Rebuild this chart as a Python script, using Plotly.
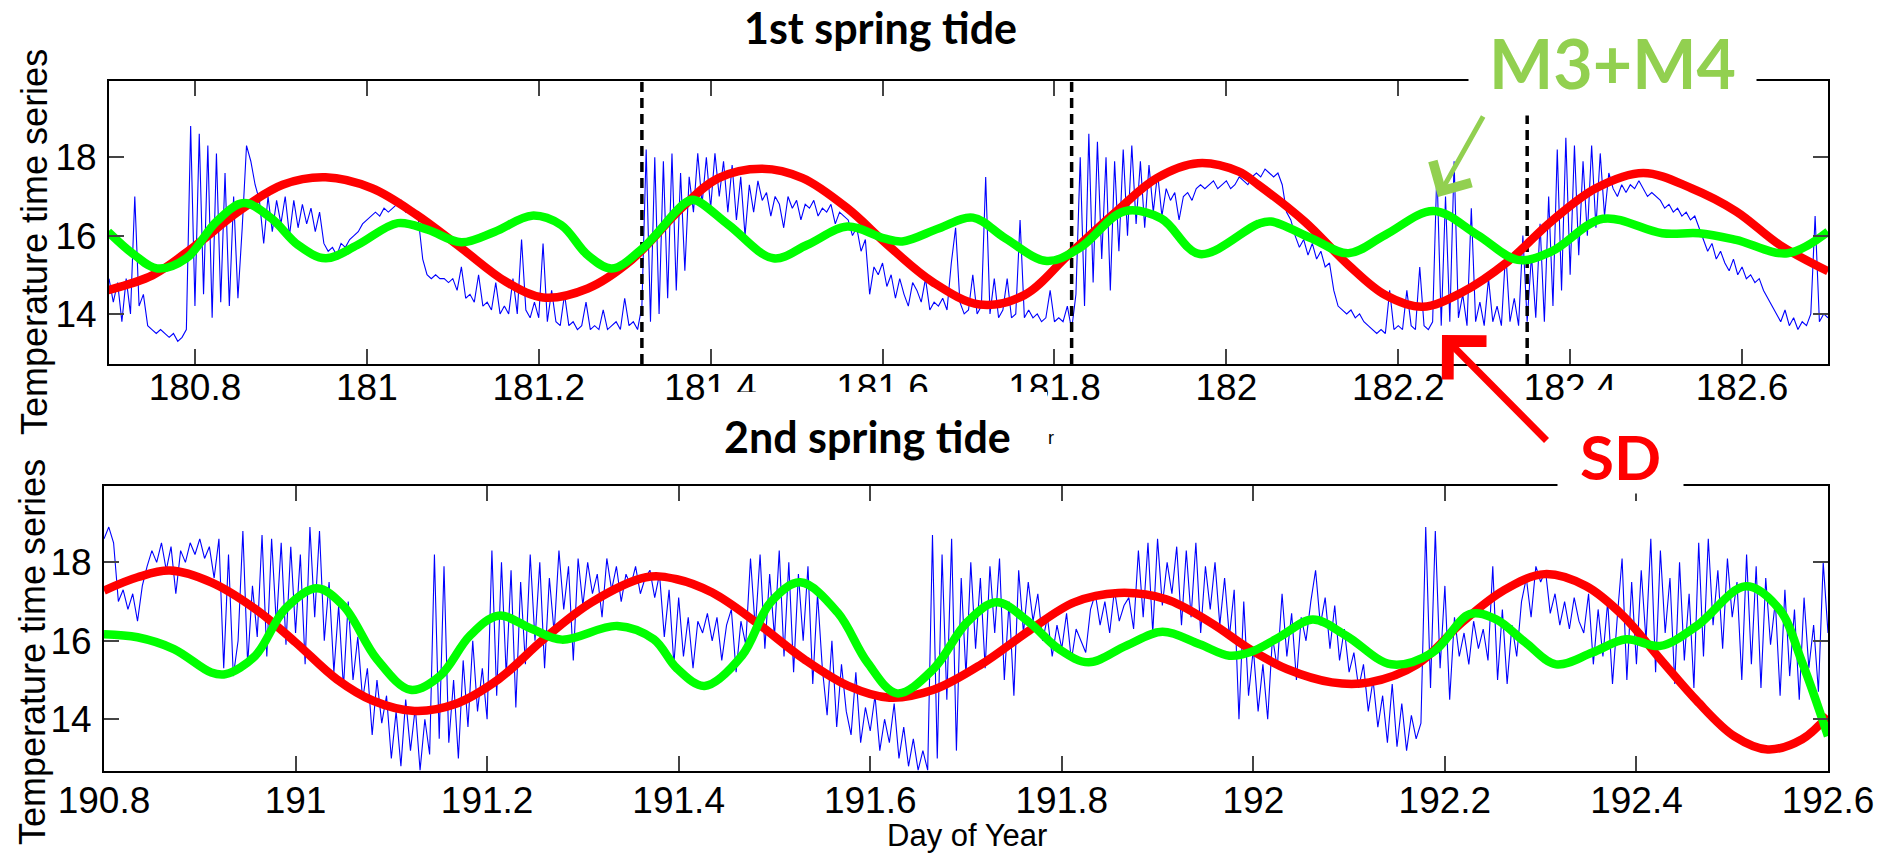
import numpy as np
import plotly.graph_objects as go

# ---------------- data ----------------
# observed temperature, uniform sampling every 0.005 day
top_start = 180.70
bottom_start = 190.80
sample_step = 0.005

top_temp = [
    14.9, 14.3, 14.8, 13.8, 14.9, 14.0, 17.0, 14.2, 14.5, 13.7, 13.6, 13.5, 13.6, 13.5, 13.4, 13.5, 13.3, 13.4, 13.6, 18.8,
    14.2, 18.6, 14.5, 18.3, 13.9, 18.1, 14.3, 17.6, 14.2, 17.0, 14.4, 16.2, 18.3, 17.9, 17.3, 16.9, 15.8, 17.0, 16.1, 16.9,
    16.3, 17.0, 16.0, 16.9, 16.2, 16.8, 16.3, 16.7, 16.1, 16.6, 15.8, 15.6, 15.7, 15.5, 15.8, 15.7, 15.9, 16.0, 16.1, 16.3,
    16.4, 16.5, 16.6, 16.5, 16.7, 16.6, 16.7, 16.8, 16.9, 16.6, 16.7, 16.5, 16.4, 15.4, 15.0, 14.9, 15.0, 14.9, 14.9, 14.8,
    14.9, 14.6, 15.2, 14.4, 14.5, 14.3, 15.0, 14.2, 14.3, 14.1, 14.8, 14.0, 14.2, 14.0, 14.9, 14.0, 15.9, 14.1, 13.9, 14.3,
    13.9, 15.8, 13.8, 14.6, 13.8, 13.7, 14.5, 13.7, 13.8, 13.6, 13.7, 14.3, 13.6, 13.7, 13.6, 14.1, 13.6, 13.7, 13.8, 13.6,
    14.4, 13.7, 13.8, 13.6, 14.2, 18.2, 13.8, 18.0, 14.0, 17.9, 14.4, 18.1, 14.6, 17.6, 15.1, 17.5, 16.6, 18.1, 16.8, 18.0,
    16.7, 18.1, 17.0, 17.9, 16.6, 17.8, 16.4, 17.5, 16.0, 17.3, 16.6, 17.4, 16.9, 17.1, 16.5, 17.0, 16.8, 16.2, 17.0, 16.7,
    16.9, 16.4, 16.8, 16.7, 16.9, 16.5, 16.7, 16.6, 16.8, 16.3, 16.6, 16.5, 16.4, 16.0, 16.2, 15.6, 15.9, 14.5, 15.2, 15.0,
    15.3, 14.7, 15.0, 14.4, 14.9, 14.5, 14.2, 14.8, 14.6, 14.3, 14.9, 14.1, 14.3, 14.2, 14.4, 14.1, 15.3, 16.2, 14.3, 14.0,
    14.1, 15.0, 14.0, 14.2, 17.5, 14.0, 14.9, 13.9, 14.1, 14.9, 13.9, 14.0, 16.4, 13.9, 14.1, 13.9, 14.0, 13.8, 13.9, 14.6,
    13.8, 13.9, 13.8, 14.2, 13.6, 14.5, 18.0, 14.2, 18.6, 14.8, 18.4, 15.4, 18.0, 14.6, 17.9, 15.6, 18.2, 16.0, 18.3, 16.3,
    17.9, 16.2, 17.8, 16.6, 17.6, 16.5, 17.2, 16.9, 17.1, 16.4, 17.0, 17.1, 16.9, 17.2, 17.3, 17.2, 17.3, 17.4, 17.2, 17.3,
    17.4, 17.2, 17.3, 17.5, 17.4, 17.3, 17.5, 17.6, 17.5, 17.7, 17.6, 17.5, 17.6, 17.3, 16.6, 16.4, 16.0, 15.7, 15.9, 15.5,
    15.8, 15.4, 15.6, 15.2, 15.3, 14.6, 14.2, 14.1, 14.0, 14.1, 13.9, 14.0, 13.8, 13.7, 13.6, 13.5, 13.6, 13.5, 14.6, 13.6,
    13.7, 13.6, 14.6, 13.7, 13.6, 15.2, 13.7, 13.6, 13.8, 17.7, 13.7, 17.0, 13.8, 17.9, 13.9, 14.5, 13.7, 16.7, 13.8, 14.3,
    13.7, 14.9, 13.8, 14.2, 13.7, 15.6, 13.8, 14.4, 13.7, 16.0, 13.8, 15.5, 13.9, 16.3, 13.8, 17.0, 14.2, 18.2, 14.6, 18.5,
    15.0, 18.3, 15.5, 17.9, 16.0, 18.3, 16.2, 18.1, 16.5, 17.6, 17.2, 17.0, 17.3, 17.1, 17.3, 17.2, 17.4, 17.2, 17.0, 17.1,
    17.0, 16.9, 16.7, 16.8, 16.6, 16.7, 16.5, 16.6, 16.4, 16.5, 16.2, 15.9, 15.6, 15.8, 15.4, 15.6, 15.3, 15.1, 15.4, 15.0,
    15.2, 14.9, 15.0, 14.8, 14.9, 14.6, 14.4, 14.2, 14.0, 13.8, 14.1, 13.7, 13.9, 13.6, 13.8, 13.7, 14.0, 16.5, 13.8, 14.0,
    13.9,
]

bottom_temp = [
    18.6, 18.9, 18.5, 17.0, 17.3, 16.8, 17.2, 16.5, 17.4, 17.9, 18.3, 18.0, 18.5, 17.8, 18.4, 17.2, 18.3, 18.0, 18.5, 18.2,
    18.6, 18.1, 18.4, 17.6, 18.6, 15.3, 18.2, 15.1, 16.0, 18.8, 15.4, 17.4, 16.1, 18.7, 15.6, 18.6, 16.4, 18.5, 15.9, 18.4,
    16.2, 18.2, 15.4, 18.9, 16.6, 18.8, 16.0, 17.5, 15.2, 16.9, 14.8, 17.0, 15.0, 16.1, 14.5, 15.3, 13.6, 15.0, 13.9, 14.6,
    13.0, 14.2, 12.8, 14.5, 13.2, 14.3, 12.7, 14.0, 13.1, 18.2, 13.5, 17.9, 13.4, 15.0, 13.0, 15.5, 13.8, 16.0, 14.2, 15.3,
    14.0, 18.3, 14.6, 18.0, 15.1, 17.8, 14.3, 17.5, 15.4, 18.2, 16.0, 18.0, 15.3, 17.6, 16.2, 18.3, 16.8, 17.9, 15.5, 18.1,
    16.9, 18.0, 17.2, 17.7, 16.6, 18.1, 17.3, 17.9, 17.0, 17.7, 17.4, 17.9, 17.2, 17.6, 17.8, 17.1, 17.7, 16.1, 17.3, 15.4,
    17.1, 15.6, 16.6, 15.3, 16.5, 16.2, 16.7, 16.0, 16.6, 15.5, 16.4, 16.8, 15.2, 16.5, 15.9, 18.1, 16.3, 18.2, 15.8, 17.7,
    16.1, 18.3, 15.6, 18.0, 15.2, 17.7, 16.0, 17.9, 14.9, 17.2, 15.3, 14.1, 16.0, 13.8, 15.4, 14.2, 13.6, 15.2, 13.4, 14.3,
    13.7, 14.6, 13.2, 14.0, 13.4, 14.4, 13.0, 13.8, 12.8, 13.5, 12.7, 13.2, 12.7, 18.7, 13.0, 18.2, 14.5, 18.6, 13.2, 17.6,
    15.1, 18.0, 15.8, 17.6, 15.3, 17.9, 16.2, 18.1, 15.0, 17.0, 14.6, 17.8, 16.2, 17.5, 16.5, 17.2, 16.0, 16.6, 15.6, 16.4,
    15.8, 16.7, 15.5, 16.3, 16.0, 15.7, 16.8, 17.2, 16.4, 17.0, 16.2, 17.3, 16.5, 16.9, 17.1, 16.3, 18.3, 16.6, 18.5, 16.2,
    18.6, 16.9, 18.0, 17.2, 18.4, 16.4, 18.3, 16.6, 18.5, 16.2, 17.9, 16.8, 18.0, 16.4, 17.6, 16.1, 17.3, 14.0, 17.0, 14.6,
    15.8, 14.2, 15.4, 14.0, 16.1, 15.3, 17.2, 15.6, 16.7, 15.0, 16.6, 16.0, 17.0, 17.8, 16.4, 17.1, 15.8, 16.9, 15.5, 16.3,
    15.2, 15.7, 14.8, 15.4, 14.2, 15.0, 13.8, 14.6, 13.4, 14.9, 13.3, 14.4, 13.2, 14.1, 13.5, 13.9, 18.9, 14.8, 18.8, 15.3,
    17.4, 14.5, 16.6, 15.6, 16.2, 15.4, 16.5, 15.8, 16.3, 15.5, 17.9, 15.0, 16.8, 14.9, 16.4, 15.6, 17.0, 17.6, 16.6, 17.9,
    17.5, 17.8, 16.7, 17.2, 16.4, 17.0, 16.3, 17.1, 16.5, 16.2, 17.2, 15.4, 16.8, 15.6, 17.0, 14.9, 16.6, 18.1, 15.0, 17.5,
    15.4, 17.8, 16.0, 18.6, 15.2, 18.3, 16.2, 17.6, 14.9, 18.0, 15.5, 17.2, 14.8, 18.5, 15.6, 18.6, 16.4, 17.8, 15.8, 18.1,
    16.6, 17.5, 15.0, 18.2, 15.4, 17.9, 14.8, 17.6, 15.9, 17.0, 14.6, 17.3, 15.1, 16.8, 14.5, 17.1, 15.3, 16.4, 14.7, 18.0,
    16.2,
]

# semidiurnal (SD) reconstruction
sd_top_days = [180.699, 180.751, 180.799, 180.851, 180.902, 180.952, 181.006, 181.058, 181.110, 181.162,
               181.205, 181.257, 181.308, 181.366, 181.409, 181.460, 181.507, 181.559, 181.606, 181.658,
               181.713, 181.765, 181.816, 181.872, 181.919, 181.967, 182.014, 182.037, 182.091, 182.142,
               182.185, 182.228, 182.275, 182.327, 182.378, 182.430, 182.485, 182.541, 182.593, 182.644, 182.700]
sd_top_vals = [14.61, 14.99, 15.72, 16.62, 17.30, 17.49, 17.21, 16.53, 15.68, 14.82,
               14.42, 14.65, 15.38, 16.70, 17.47, 17.71, 17.47, 16.70, 15.76, 14.82,
               14.24, 14.48, 15.50, 16.62, 17.47, 17.85, 17.64, 17.30, 16.36, 15.25,
               14.48, 14.18, 14.56, 15.33, 16.36, 17.21, 17.60, 17.21, 16.62, 15.76, 15.09]

# M3 + M4 reconstruction
m34_top_days = [180.699, 180.730, 180.756, 180.790, 180.825, 180.857, 180.889, 180.920, 180.952, 180.989,
                181.036, 181.071, 181.110, 181.149, 181.192, 181.226, 181.257, 181.285, 181.321, 181.370,
                181.381, 181.421, 181.473, 181.512, 181.559, 181.602, 181.623, 181.666, 181.705, 181.743,
                181.791, 181.829, 181.881, 181.924, 181.969, 182.037, 182.052, 182.099, 182.142, 182.185,
                182.241, 182.292, 182.339, 182.378, 182.438, 182.507, 182.550, 182.593, 182.653, 182.700]
m34_top_vals = [16.10, 15.50, 15.16, 15.42, 16.36, 16.83, 16.44, 15.76, 15.42, 15.76,
                16.32, 16.15, 15.83, 16.10, 16.51, 16.27, 15.50, 15.16, 15.68, 16.83,
                16.91, 16.27, 15.42, 15.76, 16.23, 15.93, 15.85, 16.19, 16.46, 15.93,
                15.35, 15.68, 16.62, 16.44, 15.53, 16.30, 16.36, 15.93, 15.55, 16.02,
                16.63, 16.02, 15.38, 15.59, 16.43, 16.06, 16.06, 15.89, 15.55, 16.10]

sd_bottom_days = [190.800, 190.835, 190.869, 190.912, 190.958, 191.000, 191.043, 191.081, 191.124, 191.166,
                  191.212, 191.259, 191.309, 191.366, 191.398, 191.435, 191.481, 191.531, 191.577, 191.620,
                  191.666, 191.716, 191.766, 191.813, 191.859, 191.909, 191.955, 191.998, 192.035, 192.082,
                  192.121, 192.171, 192.218, 192.261, 192.304, 192.347, 192.386, 192.425, 192.463, 192.502,
                  192.537, 192.573, 192.600]
sd_bottom_vals = [17.28, 17.62, 17.79, 17.49, 16.81, 15.96, 15.02, 14.47, 14.21, 14.38,
                  15.02, 16.04, 16.98, 17.62, 17.57, 17.23, 16.47, 15.53, 14.85, 14.55,
                  14.75, 15.40, 16.26, 16.98, 17.22, 17.06, 16.47, 15.76, 15.28, 14.94,
                  14.94, 15.40, 16.47, 17.28, 17.70, 17.40, 16.64, 15.53, 14.47, 13.57,
                  13.23, 13.49, 14.09]

m34_bottom_days = [190.800, 190.835, 190.873, 190.912, 190.927, 190.958, 190.989, 191.022, 191.050, 191.085,
                   191.120, 191.151, 191.182, 191.212, 191.247, 191.278, 191.336, 191.374, 191.398, 191.427,
                   191.466, 191.496, 191.527, 191.566, 191.597, 191.628, 191.666, 191.701, 191.732, 191.766,
                   191.797, 191.828, 191.867, 191.905, 191.944, 191.975, 191.998, 192.027, 192.062, 192.097,
                   192.144, 192.187, 192.226, 192.253, 192.284, 192.316, 192.354, 192.389, 192.425, 192.463,
                   192.514, 192.549, 192.573, 192.600]
m34_bottom_vals = [16.17, 16.09, 15.79, 15.19, 15.15, 15.62, 16.81, 17.34, 16.89, 15.53,
                   14.75, 15.11, 16.13, 16.64, 16.30, 16.03, 16.38, 16.04, 15.30, 14.85,
                   15.62, 16.98, 17.49, 16.72, 15.45, 14.66, 15.28, 16.47, 16.98, 16.47,
                   15.79, 15.45, 15.87, 16.23, 15.91, 15.62, 15.72, 16.09, 16.54, 16.13,
                   15.40, 15.70, 16.68, 16.55, 15.96, 15.40, 15.70, 16.04, 15.87, 16.38,
                   17.39, 16.81, 15.45, 13.57]

divider_days = [181.32, 181.82, 182.35]
divider_tops = [19.95, 19.95, 19.07]

top_tick_vals = [180.8, 181.0, 181.2, 181.4, 181.6, 181.8, 182.0, 182.2, 182.4, 182.6]
top_tick_text = ["180.8", "181", "181.2", "181.4", "181.6", "181.8", "182", "182.2", "182.4", "182.6"]
bottom_tick_vals = [190.8, 191.0, 191.2, 191.4, 191.6, 191.8, 192.0, 192.2, 192.4, 192.6]
bottom_tick_text = ["190.8", "191", "191.2", "191.4", "191.6", "191.8", "192", "192.2", "192.4", "192.6"]
y_tick_vals = [14, 16, 18]
y_tick_text = ["14", "16", "18"]

top_range = [180.7, 182.7]
bottom_range = [190.8, 192.6]
top_yrange = [12.72, 19.95]
bottom_yrange = [12.68, 19.96]

# ---------------- figure ----------------
W, H = 1888, 853
def px(x):
    return x / W
def py(y):
    return 1 - y / H

top_days = top_start + sample_step * np.arange(len(top_temp))
bottom_days = bottom_start + sample_step * np.arange(len(bottom_temp))

BLUE = "#0000FF"
RED = "#FF0000"
GREEN = "#00FF00"
LIGHTGREEN = "#92D050"

fig = go.Figure()

# top panel
fig.add_trace(go.Scatter(x=top_days, y=top_temp, mode="lines",
                         line=dict(color=BLUE, width=1.1), xaxis="x", yaxis="y"))
for d, t in zip(divider_days, divider_tops):
    fig.add_trace(go.Scatter(x=[d, d], y=[top_yrange[0], t], mode="lines",
                             line=dict(color="black", width=3.5, dash="10px,6px"),
                             xaxis="x", yaxis="y"))
fig.add_trace(go.Scatter(x=sd_top_days, y=sd_top_vals, mode="lines",
                         line=dict(color=RED, width=8.5, shape="spline", smoothing=1.0),
                         xaxis="x", yaxis="y"))
fig.add_trace(go.Scatter(x=m34_top_days, y=m34_top_vals, mode="lines",
                         line=dict(color=GREEN, width=8.5, shape="spline", smoothing=1.0),
                         xaxis="x", yaxis="y"))

# bottom panel
fig.add_trace(go.Scatter(x=bottom_days, y=bottom_temp, mode="lines",
                         line=dict(color=BLUE, width=1.1), xaxis="x2", yaxis="y2"))
fig.add_trace(go.Scatter(x=sd_bottom_days, y=sd_bottom_vals, mode="lines",
                         line=dict(color=RED, width=8.5, shape="spline", smoothing=1.0),
                         xaxis="x2", yaxis="y2"))
fig.add_trace(go.Scatter(x=m34_bottom_days, y=m34_bottom_vals, mode="lines",
                         line=dict(color=GREEN, width=8.5, shape="spline", smoothing=1.0),
                         xaxis="x2", yaxis="y2"))

tickfont = dict(family="Liberation Sans, Arial, sans-serif", size=37, color="black")
axis_common = dict(showline=True, linecolor="black", linewidth=2, mirror="ticks",
                   ticks="inside", ticklen=15, tickwidth=1.5, tickcolor="#444",
                   showgrid=False, zeroline=False, tickfont=tickfont, automargin=False)

fig.update_layout(
    width=W, height=H,
    margin=dict(l=0, r=0, t=0, b=0, pad=0, autoexpand=False),
    paper_bgcolor="white", plot_bgcolor="white",
    showlegend=False,
    xaxis=dict(domain=[px(109), px(1828)], anchor="y", range=top_range,
               tickmode="array", tickvals=top_tick_vals, ticktext=top_tick_text,
               ticklabelstandoff=-10, **axis_common),
    yaxis=dict(domain=[py(364), py(81)], anchor="x", range=top_yrange,
               tickmode="array", tickvals=y_tick_vals, ticktext=y_tick_text,
               ticklabelstandoff=3, **axis_common),
    xaxis2=dict(domain=[px(104), px(1828)], anchor="y2", range=bottom_range,
                tickmode="array", tickvals=bottom_tick_vals, ticktext=bottom_tick_text,
                ticklabelstandoff=-4, **axis_common),
    yaxis2=dict(domain=[py(771), py(485.5)], anchor="x2", range=bottom_yrange,
                tickmode="array", tickvals=y_tick_vals, ticktext=y_tick_text,
                ticklabelstandoff=3, **axis_common),
)

# white patches that partly hide some of the upper tick labels (as in the source image)
fig.add_shape(type="rect", xref="paper", yref="paper", layer="above",
              x0=px(707), x1=px(1047), y0=py(418), y1=py(392),
              fillcolor="white", line=dict(width=0))
fig.add_shape(type="rect", xref="paper", yref="paper", layer="above",
              x0=px(1566), x1=px(1620), y0=py(418), y1=py(390),
              fillcolor="white", line=dict(width=0))

title_font = dict(family="Lato, Calibri, sans-serif", size=43, color="black", weight="bold")
label_font = dict(family="Liberation Sans, Arial, sans-serif", size=36, color="black")

annotations = [
    dict(text="1st spring tide", x=px(880), y=py(27), xref="paper", yref="paper",
         showarrow=False, xanchor="center", yanchor="middle", font=title_font),
    dict(text="2nd spring tide", x=px(867), y=py(436), xref="paper", yref="paper",
         showarrow=False, xanchor="center", yanchor="middle", font=title_font),
    dict(text="r", x=px(1051), y=py(438), xref="paper", yref="paper",
         showarrow=False, xanchor="center", yanchor="middle",
         font=dict(family="Liberation Sans, Arial", size=18, color="black")),
    dict(text="Temperature time series", x=px(34), y=py(242), xref="paper", yref="paper",
         showarrow=False, textangle=-90, xanchor="center", yanchor="middle", font=label_font),
    dict(text="Temperature time series", x=px(32), y=py(652), xref="paper", yref="paper",
         showarrow=False, textangle=-90, xanchor="center", yanchor="middle", font=label_font),
    dict(text="Day of Year", x=px(967), y=py(835), xref="paper", yref="paper",
         showarrow=False, xanchor="center", yanchor="middle",
         font=dict(family="Liberation Sans, Arial, sans-serif", size=31, color="black")),
    # arrows
    dict(text="", x=px(1438), y=py(197), xref="paper", yref="paper",
         showarrow=True, ax=46, ay=-82, arrowcolor=LIGHTGREEN, arrowwidth=5,
         arrowhead=4, arrowsize=1.7, standoff=0),
    dict(text="", x=px(1442), y=py(335), xref="paper", yref="paper",
         showarrow=True, ax=106, ay=107, arrowcolor=RED, arrowwidth=7,
         arrowhead=4, arrowsize=1.5, standoff=0),
    # labels with white boxes
    dict(text="M3+M4", x=px(1612), y=py(62), xref="paper", yref="paper",
         showarrow=False, xanchor="center", yanchor="middle", bgcolor="white",
         width=285, height=80,
         font=dict(family="Lato, Calibri, sans-serif", size=68, color=LIGHTGREEN, weight="bold")),
    dict(text="SD", x=px(1620), y=py(456), xref="paper", yref="paper",
         showarrow=False, xanchor="center", yanchor="middle", bgcolor="white",
         width=123, height=72,
         font=dict(family="Lato, Calibri, sans-serif", size=62, color=RED, weight="bold")),
]
fig.update_layout(annotations=annotations)

fig.write_html("out.html")
